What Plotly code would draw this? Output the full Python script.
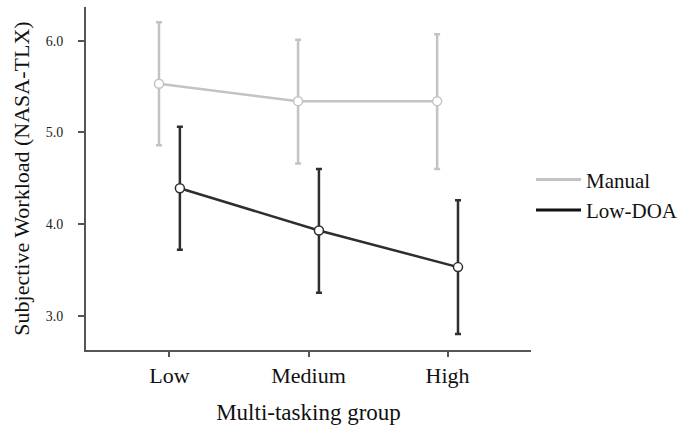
import plotly.graph_objects as go

# Multi-tasking groups on the x axis
groups = ["Low", "Medium", "High"]

# Mean subjective workload (NASA-TLX) with 95% CI bounds
manual_mean = [5.53, 5.34, 5.34]
manual_upper = [6.20, 6.01, 6.07]
manual_lower = [4.86, 4.66, 4.60]

lowdoa_mean = [4.39, 3.93, 3.53]
lowdoa_upper = [5.06, 4.60, 4.26]
lowdoa_lower = [3.72, 3.25, 2.80]

y_ticks = [3.0, 4.0, 5.0, 6.0]

FONT = "Liberation Serif, Times New Roman, serif"
DODGE = 0.075  # horizontal offset between the two series within a group
MANUAL_COLOR = "#c3c3c3"
LOWDOA_COLOR = "#2e2e2e"

positions = list(range(len(groups)))


def series(name, mean, upper, lower, color, shift):
    xs = [p + shift for p in positions]
    return go.Scatter(
        x=xs,
        y=mean,
        name=name,
        showlegend=False,
        mode="lines+markers",
        line=dict(color=color, width=2.5),
        marker=dict(symbol="circle", size=9, color="white",
                    line=dict(color=color, width=1.5)),
        error_y=dict(
            type="data",
            symmetric=False,
            array=[u - m for u, m in zip(upper, mean)],
            arrayminus=[m - l for m, l in zip(mean, lower)],
            color=color,
            thickness=2.5,
            width=3,
        ),
    )


def legend_key(name, color):
    # line-only key so the legend shows plain strokes
    return go.Scatter(x=[None], y=[None], name=name, mode="lines",
                      line=dict(color=color, width=3), showlegend=True)


fig = go.Figure()
fig.add_trace(series("Manual", manual_mean, manual_upper, manual_lower, MANUAL_COLOR, -DODGE))
fig.add_trace(series("Low-DOA", lowdoa_mean, lowdoa_upper, lowdoa_lower, LOWDOA_COLOR, DODGE))
fig.add_trace(legend_key("Manual", MANUAL_COLOR))
fig.add_trace(legend_key("Low-DOA", "#111111"))

fig.update_layout(
    width=681,
    height=429,
    margin=dict(l=86, r=150, t=7, b=79, autoexpand=False),
    paper_bgcolor="white",
    plot_bgcolor="white",
    font=dict(family=FONT, color="#111111"),
    showlegend=True,
    legend=dict(
        x=1.0, y=0.452, xanchor="left", yanchor="middle",
        font=dict(family=FONT, size=21, color="#111111"),
        itemwidth=45,
        tracegroupgap=0,
        bgcolor="rgba(0,0,0,0)",
    ),
    xaxis=dict(
        range=[-0.6, 2.6],
        tickmode="array",
        tickvals=positions,
        ticktext=groups,
        showline=True,
        linecolor="#555555",
        linewidth=2,
        ticks="outside",
        ticklen=5,
        tickwidth=2,
        tickcolor="#555555",
        tickfont=dict(family=FONT, size=22, color="#111111"),
        showgrid=False,
        zeroline=False,
        title=dict(text="Multi-tasking group",
                   font=dict(family=FONT, size=23, color="#111111"),
                   standoff=16),
    ),
    yaxis=dict(
        range=[2.626, 6.367],
        tickmode="array",
        tickvals=y_ticks,
        ticktext=[f"{v:.1f}" for v in y_ticks],
        showline=True,
        linecolor="#555555",
        linewidth=2,
        ticks="outside",
        ticklen=6,
        tickwidth=2,
        tickcolor="#555555",
        tickfont=dict(family=FONT, size=14, color="#222222"),
        ticklabelstandoff=12,
        showgrid=False,
        zeroline=False,
        title=dict(text="Subjective Workload (NASA-TLX)",
                   font=dict(family=FONT, size=22, color="#111111"),
                   standoff=10),
    ),
)

fig.write_html("out.html")
